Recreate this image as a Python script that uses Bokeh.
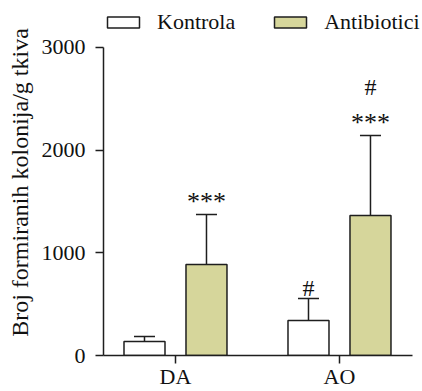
from bokeh.plotting import figure
from bokeh.models import (ColumnDataSource, Whisker, TeeHead, Legend, LegendItem,
                          FixedTicker, Range1d)
from bokeh.transform import dodge
from bokeh.core.properties import value
from bokeh.embed import file_html
from bokeh.resources import INLINE

# ---- data ----
groups = ["DA", "AO"]
kontrola_mean = [136, 341]
kontrola_sd = [49, 214]
antibiotici_mean = [886, 1363]
antibiotici_sd = [487, 779]
kontrola_stars = ["", ""]
kontrola_hash = ["", "#"]
antibiotici_stars = ["***", "***"]
antibiotici_hash = ["", "#"]
y_ticks = [0, 1000, 2000, 3000]
y_label = "Broj formiranih kolonija/g tkiva"

FONT = "Liberation Serif"
FILL_A = "#d6d69b"
LINE = "#1e1e1e"
OFF = 0.189
BW = 0.25

W, H = 422, 391
BL, BR, BT, BB = 103, 2, 9, 36

xs = list(range(len(groups)))
def hash_off(stars):
    return [-49 if s else -11 for s in stars]

src = ColumnDataSource(dict(
    x=xs,
    k=kontrola_mean,
    k_up=[m + s for m, s in zip(kontrola_mean, kontrola_sd)],
    a=antibiotici_mean,
    a_up=[m + s for m, s in zip(antibiotici_mean, antibiotici_sd)],
    k_stars=kontrola_stars, k_hash=kontrola_hash, k_hoff=hash_off(kontrola_stars),
    a_stars=antibiotici_stars, a_hash=antibiotici_hash, a_hoff=hash_off(antibiotici_stars),
))

p = figure(width=W, height=H, x_range=Range1d(-0.439, 1.494), y_range=Range1d(0, 3370),
           output_backend="svg", toolbar_location=None,
           min_border_left=BL, min_border_right=BR, min_border_top=BT, min_border_bottom=BB)
p.outline_line_color = None
p.xgrid.visible = False
p.ygrid.visible = False
p.background_fill_color = None
p.border_fill_color = "white"

rk = p.vbar(x=dodge("x", -OFF), top="k", width=BW, bottom=0, source=src,
            fill_color="white", line_color=LINE, line_width=1.5)
ra = p.vbar(x=dodge("x", OFF), top="a", width=BW, bottom=0, source=src,
            fill_color=FILL_A, line_color=LINE, line_width=1.5)

for xo, lo, up in [(-OFF, "k", "k_up"), (OFF, "a", "a_up")]:
    w = Whisker(base=dodge("x", xo), lower=lo, upper=up, source=src, dimension="height",
                line_color=LINE, line_width=1.5, lower_head=None,
                upper_head=TeeHead(size=21, line_color=LINE, line_width=1.5), level="glyph")
    p.add_layout(w)

for xo, up, st, hs, ho in [(-OFF, "k_up", "k_stars", "k_hash", "k_hoff"),
                           (OFF, "a_up", "a_stars", "a_hash", "a_hoff")]:
    p.text(x=dodge("x", xo), y=up, text=st, source=src, y_offset=-13,
           text_align="center", text_baseline="alphabetic",
           text_font=value(FONT), text_font_size="26px", text_color="#111111")
    p.text(x=dodge("x", xo), y=up, text=hs, source=src, y_offset=ho,
           text_align="center", text_baseline="alphabetic",
           text_font=value(FONT), text_font_size="24px", text_color="#111111")

for ax in (p.xaxis[0], p.yaxis[0]):
    ax.axis_line_color = LINE
    ax.axis_line_width = 1.5
    ax.major_tick_line_color = LINE
    ax.major_tick_line_width = 1.5
    ax.major_tick_out = 8
    ax.major_tick_in = 0
    ax.minor_tick_line_color = None
    ax.major_label_text_font = FONT
    ax.major_label_text_font_size = "22px"
    ax.major_label_text_color = "#111111"

p.xaxis.ticker = FixedTicker(ticks=xs)
p.xaxis.bounds = (-0.439, 1.445)
p.xaxis.major_label_overrides = {i: g for i, g in zip(xs, groups)}
p.xaxis.major_label_standoff = 0

p.yaxis.ticker = FixedTicker(ticks=y_ticks)
p.yaxis.bounds = (y_ticks[0], y_ticks[-1])
p.yaxis.major_label_standoff = 10
p.yaxis.axis_label = y_label
p.yaxis.axis_label_text_font = FONT
p.yaxis.axis_label_text_font_style = "normal"
p.yaxis.axis_label_text_color = "#111111"
p.yaxis.axis_label_text_font_size = "24px"
p.yaxis.axis_label_standoff = 6

legend = Legend(items=[LegendItem(label="Kontrola", renderers=[rk]),
                       LegendItem(label="Antibiotici", renderers=[ra])],
                orientation="horizontal", location="top_left",
                glyph_width=40, glyph_height=14, label_standoff=14, spacing=35,
                padding=6, margin=0, border_line_color=None, background_fill_alpha=0,
                label_text_font=FONT, label_text_font_size="22px", label_text_color="#111111")
p.add_layout(legend)

open("out.html", "w").write(file_html(p, INLINE))
